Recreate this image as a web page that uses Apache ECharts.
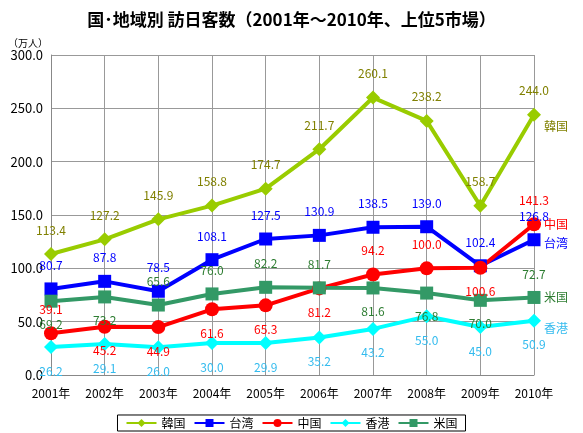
<!DOCTYPE html><html><head><meta charset="utf-8"><script src="https://cdn.jsdelivr.net/npm/echarts@6/dist/echarts.min.js"></script></head><body style="margin:0"><div id="c" style="width:583px;height:433px"></div><script>
const years=['2001年','2002年','2003年','2004年','2005年','2006年','2007年','2008年','2009年','2010年'];
const korea=[113.4,127.2,145.9,158.8,174.7,211.7,260.1,238.2,158.7,244.0];
const taiwan=[80.7,87.8,78.5,108.1,127.5,130.9,138.5,139.0,102.4,126.8];
const china=[39.1,45.2,44.9,61.6,65.3,81.2,94.2,100.0,100.6,141.3];
const hongkong=[26.2,29.1,26.0,30.0,29.9,35.2,43.2,55.0,45.0,50.9];
const usa=[69.2,73.2,65.6,76.0,82.2,81.7,81.6,76.8,70.0,72.7];
const F='"Noto Sans CJK JP",sans-serif';
function mk(name,data,color,symbol,pos,lc){
  return {name,type:'line',data:data.map((v,i)=>({value:v,label:{position:pos[i]}})),
    itemStyle:{color},lineStyle:{color,width:4},symbol,symbolSize:symbol==='rect'?13:14,
    label:{show:true,color:lc||color,fontSize:12,fontFamily:F,formatter:p=>p.value.toFixed(1),distance:11},
    endLabel:{show:true,formatter:name,color:lc||color,fontSize:12,fontFamily:F,distance:10},
    z: 2};
}
const T=Array(10).fill('top'),B=Array(10).fill('bottom');
const series=[
 mk('韓国',korea,'#99cc00','diamond',T,'#808000'),
 mk('台湾',taiwan,'#0000ff','rect',T),
 mk('中国',china,'#ff0000','circle',['top','bottom','bottom','bottom','bottom','bottom','top','top','bottom','top']),
 mk('香港',hongkong,'#00ffff','diamond',B,'#33bbee'),
 mk('米国',usa,'#339966','rect',['bottom','bottom','top','top','top','top','bottom','bottom','bottom','top'],'#2e7d32')
];
series[0].endLabel.offset=[0,12];
series[1].endLabel.offset=[0,4];
series[3].endLabel.offset=[0,8];
const chart=echarts.init(document.getElementById('c'));
chart.setOption({
 title:{text:'国･地域別 訪日客数（2001年～2010年、上位5市場）',left:'center',top:6,textStyle:{fontFamily:F,fontSize:17,fontWeight:'bold',color:'#000'}},
 graphic:[{type:'text',left:8,top:38,style:{text:'（万人）',fontSize:10,fontFamily:F,fill:'#000'}}],
 legend:{bottom:2,left:'center',itemWidth:30,itemHeight:10,itemGap:8,textStyle:{fontFamily:F,fontSize:12,color:'#000'},borderColor:'#000',borderWidth:1,padding:[2,8],
   data:['韓国','台湾','中国','香港','米国']},
 grid:{left:51,right:49,top:55,bottom:58},
 xAxis:{type:'category',data:years,boundaryGap:false,axisLine:{lineStyle:{color:'#888'}},axisTick:{show:false},
   splitLine:{show:true,lineStyle:{color:'#999'}},axisLabel:{interval:0,color:'#000',fontSize:12,fontFamily:F,margin:12}},
 yAxis:{type:'value',min:0,max:300,interval:50,axisLine:{show:true,lineStyle:{color:'#888'}},
   splitLine:{lineStyle:{color:'#999'}},axisLabel:{color:'#000',fontSize:13,fontFamily:F,formatter:v=>v.toFixed(1)}},
 series
});
</script></body></html>
